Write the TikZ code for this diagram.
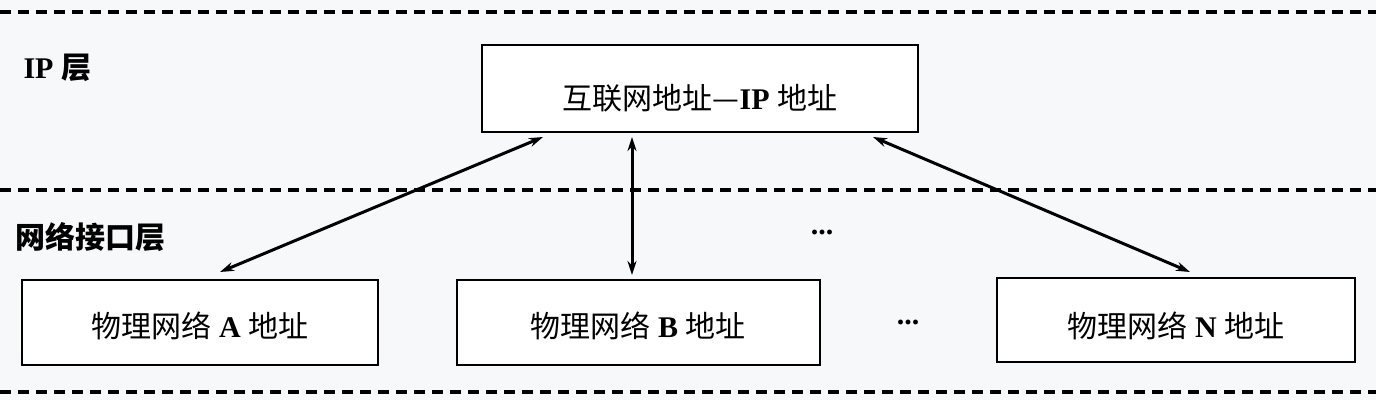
\documentclass[tikz,border=0pt]{standalone}
\usepackage{fontspec}
\setmainfont{Liberation Serif}
\newfontfamily\cjk{Noto Sans CJK SC}
\begin{document}
\begin{tikzpicture}[x=1pt,y=-1pt,
  box/.style={draw,line width=2pt,fill=white,inner sep=0pt},
  dl/.style={line width=3.5pt,dash pattern=on 11pt off 7pt},
  arr/.style={<->,>={Stealth[length=14pt,width=9pt]},line width=3pt},
  lab/.style={font=\fontsize{30}{34}\selectfont\bfseries}]
\usetikzlibrary{arrows.meta}
\fill[fill={rgb,255:red,246;green,248;blue,250}] (0,0) rectangle (1376,400);
\useasboundingbox (0,0) rectangle (1376,400);
\draw[dl] (0,12) -- (1376,12);
\draw[dl] (0,190) -- (1376,190);
\draw[dl] (0,392) -- (1376,392);
\node[box,minimum width=436pt,minimum height=87pt] (ip) at (700,88) {};
\node[lab] at (700,98) {{\cjk\mdseries 互联网地址—}IP {\cjk\mdseries 地址}};
\node[box,minimum width=356pt,minimum height=85pt] (a) at (200,322) {};
\node[lab] at (200,326) {{\cjk\mdseries 物理网络} A {\cjk\mdseries 地址}};
\node[box,minimum width=363pt,minimum height=85pt] (b) at (638,322) {};
\node[lab] at (638,326) {{\cjk\mdseries 物理网络} B {\cjk\mdseries 地址}};
\node[box,minimum width=358pt,minimum height=84pt] (n) at (1176,320) {};
\node[lab] at (1176,326) {{\cjk\mdseries 物理网络} N {\cjk\mdseries 地址}};
\node[lab,anchor=west] (l1) at (20,68) {IP {\cjk 层}};
\node[lab,anchor=west] (l2) at (12,237) {\cjk 网络接口层};
\node[lab] (d1) at (822,232) {\textbf{...}};
\node[lab] (d2) at (908,322) {\textbf{...}};
\coordinate (ia) at (543,137); \coordinate (aa) at (220,272);
\coordinate (ib) at (632,137); \coordinate (bb) at (632,275);
\coordinate (in) at (873,137); \coordinate (nn) at (1190,272);
\draw[arr] (ia) -- (aa);
\draw[arr] (ib) -- (bb);
\draw[arr] (in) -- (nn);
\end{tikzpicture}
\end{document}
